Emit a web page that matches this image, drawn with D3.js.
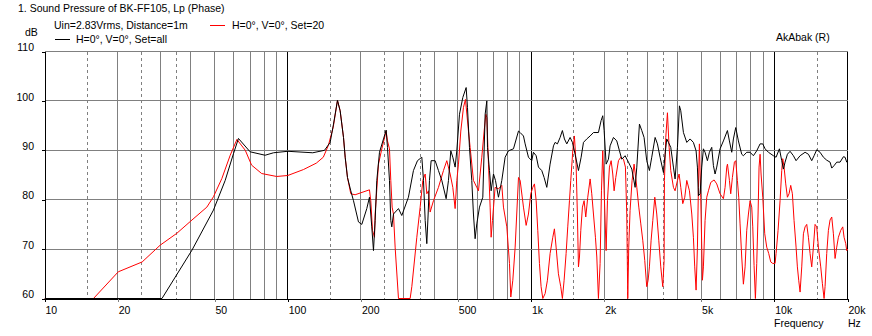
<!DOCTYPE html>
<html>
<head>
<meta charset="utf-8">
<script src="https://cdn.jsdelivr.net/npm/d3@7"></script>
<style>
  html, body { margin: 0; padding: 0; background: #fff; }
  svg text { font-family: "Liberation Sans", Arial, sans-serif; font-size: 10.5px; fill: #000; }
</style>
</head>
<body>
<svg id="chart" width="872" height="336"></svg>
<script>
// ---------- data ----------
const titleText = "1. Sound Pressure of BK-FF105, Lp (Phase)";
const legendInfo = "Uin=2.83Vrms, Distance=1m";
const seriesNames = ["H=0°, V=0°, Set=20", "H=0°, V=0°, Set=all"];
const seriesColors = ["#ff0000", "#000000"];

const xTickValues = [10, 20, 50, 100, 200, 500, 1000, 2000, 5000, 10000, 20000];
const xTickLabels = ["10", "20", "50", "100", "200", "500", "1k", "2k", "5k", "10k", "20k"];
const yTickValues = [60, 70, 80, 90, 100, 110];

// Set=all (black) : [frequency Hz, dB]
const blackSeries = [
  [10,60],[30.4,60],[40.4,69.8],[49.5,77.9],[55.3,83.9],[59.8,89.3],[62.7,92.4],[70,89.7],[80.7,89.0],[87.4,89.5],
  [100,89.8],[126.7,89.5],[141.6,90.0],[149.4,91.6],[154.2,95.3],[160.1,100.1],[164.2,98.0],[169.5,92.6],[172.2,88.6],
  [176,84.5],[181.6,81.8],[186.3,79.8],[195.3,75.5],[201.6,75.0],[211.3,78.2],[216.7,80.5],[221.5,74.5],[225.1,69.7],
  [228.7,75.8],[232.3,83.9],[238.3,89.6],[247.5,92.3],[253.8,94.1],[257,90.6],[261.9,83.9],[265.2,75.8],[267.7,74.5],
  [272,77.1],[285.2,78.2],[294.3,76.8],[313.4,80.5],[328.6,85.9],[341.4,87.9],[355.7,88.6],[361.4,83.9],[367.2,75.8],
  [372.9,71.1],[377.7,77.1],[382.4,83.9],[388.5,87.9],[403.5,87.9],[416.4,85.9],[429.8,83.9],[447.8,80.2],[457.8,83.9],
  [468,89.9],[477,88.6],[487.6,86.6],[495.4,89.9],[508.1,97.3],[524.4,100.7],[541.2,102.7],[548,98.7],[558.4,90.6],
  [570.8,83.9],[579.9,77.1],[589.1,72.1],[598.5,75.1],[614,78.5],[633.6,80.5],[647.8,97.3],[658.1,100.0],[662.3,90.6],
  [674.9,85.9],[685.6,81.8],[701,85.2],[714.3,83.9],[734.8,80.5],[758.4,83.9],[782.7,88.6],[808,89.9],[847.1,90.3],
  [888.2,93.9],[902,93.6],[931,92.9],[946,91.3],[976,88.6],[1007,87.9],[1023,89.6],[1050,88.9],[1073,86.6],[1107,85.9],
  [1132,84.5],[1161,82.5],[1198,87.2],[1237,90.9],[1256,91.6],[1284,91.3],[1317,92.6],[1346,94.0],[1372,92.3],
  [1403,91.3],[1448,92.6],[1480,91.6],[1518,89.2],[1567,85.9],[1607,88.6],[1643,91.6],[1695,92.3],[1750,92.9],
  [1806,93.6],[1893,93.6],[1941,96.0],[1972,97.0],[1998,94.0],[2036,87.2],[2081,88.2],[2114,90.9],[2182,92.6],
  [2252,91.9],[2310,89.9],[2361,88.2],[2437,88.9],[2515,87.6],[2596,86.2],[2679,82.5],[2722,86.6],[2791,95.3],
  [2853,94.0],[2916,92.6],[2990,87.9],[3067,85.9],[3136,88.6],[3237,92.6],[3309,91.3],[3393,88.6],[3502,85.5],
  [3558,89.2],[3614,92.3],[3672,91.6],[3754,90.6],[3850,86.6],[3911,84.2],[3999,90.6],[4075,99.0],[4127,98.0],
  [4232,93.6],[4368,91.6],[4508,92.3],[4650,91.6],[4771,89.9],[4831,86.6],[4877,80.8],[4955,81.2],[5033,86.6],
  [5113,90.3],[5194,89.6],[5311,87.9],[5412,89.6],[5533,90.6],[5621,86.9],[5710,85.2],[5801,86.6],[5987,90.3],
  [6179,91.9],[6418,94.0],[6540,91.9],[6686,89.6],[6792,92.3],[6944,94.6],[7121,91.9],[7349,89.2],[7466,88.9],
  [7706,89.6],[7953,89.6],[8208,88.9],[8471,89.9],[8743,91.3],[8967,91.3],[9167,90.3],[9461,89.6],[9918,88.9],
  [10171,88.6],[10498,90.3],[10732,87.9],[10903,86.2],[11077,87.6],[11324,89.2],[11613,89.8],[11985,88.9],
  [12292,87.9],[12767,88.9],[13385,89.6],[13815,89.2],[14256,87.9],[14575,88.9],[14947,90.1],[15426,89.6],
  [15921,88.6],[16431,88.0],[16958,87.6],[17228,86.4],[17612,86.9],[18062,87.6],[18642,87.6],[19240,88.7],
  [19544,88.6],[19855,87.6],[20000,87.8]
];

// Set=20 (red) : [frequency Hz, dB]
const redSeries = [
  [10,60],[15.9,60],[20.1,65.4],[25.2,67.4],[29.9,70.8],[35,73.2],[40.4,75.9],[46.5,78.5],[49.5,80.6],[53.6,84.3],
  [58,89.0],[61.8,92.2],[66.9,90.0],[71,87.0],[78.1,85.3],[90,84.7],[100,84.9],[116,86.1],[131,87.4],[140,88.6],
  [146.9,91.0],[153.8,94.7],[160.1,100.1],[164.2,98.0],[169.5,92.6],[172.2,88.6],[176,84.5],[181.6,81.2],[189.2,81.0],
  [216.7,82.0],[219.4,79.8],[223,73.8],[227.3,72.4],[228.7,77.1],[236,87.2],[243.6,90.3],[253.8,93.9],[257,91.9],
  [261.9,90.3],[265.2,83.9],[268.6,78.5],[272,77.1],[276.3,70.4],[285.2,60],[318.5,60],[323.6,62.4],[339.3,72.4],
  [350.2,78.5],[359.1,83.9],[367.2,85.2],[372.9,81.2],[378.9,81.8],[384.9,77.5],[397.2,79.8],[416.4,82.5],[436.6,85.9],
  [450.6,87.9],[465.1,85.2],[477,82.5],[487.6,78.2],[495.4,83.9],[503.3,87.2],[514.5,93.9],[527.7,98.7],[537.7,100.3],
  [553.2,93.9],[562,90.6],[579.9,83.9],[598.5,82.5],[608.1,81.8],[627.6,88.6],[641.7,93.9],[652,97.3],[658.1,96.6],
  [668.6,87.2],[679.2,78.5],[685.6,72.4],[694.3,75.8],[711.9,82.5],[734.8,82.2],[758.4,82.9],[770.4,78.5],[795.3,74.5],
  [815.6,67.1],[825.9,60.3],[841.8,63.7],[860.6,70.4],[888.2,84.5],[902.3,83.9],[931,78.5],[955,74.8],[976,77.1],
  [998,81.2],[1017,82.5],[1033,83.2],[1050,79.8],[1066,73.8],[1083,67.1],[1100,62.4],[1118,60],[1143,61.0],
  [1168,63.7],[1198,69.1],[1229,72.4],[1248,74.1],[1268,70.4],[1296,65.0],[1325,62.4],[1346,60],[1368,63.7],
  [1394,69.1],[1416,74.5],[1439,79.8],[1457,83.9],[1485,89.9],[1508,92.9],[1532,87.2],[1551,77.1],[1567,66.4],
  [1582,68.4],[1602,73.8],[1627,78.5],[1653,79.8],[1679,76.5],[1711,80.5],[1750,84.2],[1777,81.2],[1806,77.1],
  [1840,72.4],[1864,68.4],[1893,60],[1923,67.1],[1948,81.8],[1972,89.9],[1998,81.8],[2036,69.7],[2062,79.8],
  [2101,86.6],[2135,87.9],[2168,85.2],[2196,81.8],[2231,84.5],[2288,87.9],[2339,88.6],[2399,88.2],[2444,86.6],
  [2475,77.1],[2499,60],[2522,70.4],[2554,77.8],[2603,83.9],[2653,87.2],[2722,82.5],[2774,78.5],[2827,75.1],
  [2880,71.8],[2935,67.7],[2990,62.4],[3030,63.7],[3067,66.4],[3117,71.8],[3167,75.8],[3227,80.5],[3288,77.1],
  [3351,71.8],[3415,66.4],[3480,62.4],[3525,67.7],[3536,83.9],[3581,92.6],[3638,97.6],[3696,90.6],[3754,85.9],
  [3850,82.5],[3911,81.8],[3999,83.9],[4062,85.2],[4127,82.5],[4206,79.2],[4286,80.5],[4368,83.9],[4480,81.8],
  [4580,77.1],[4651,72.4],[4710,66.4],[4771,61.7],[4832,70.4],[4877,82.5],[4923,91.3],[4985,80.5],[5065,63.7],
  [5113,66.4],[5194,75.8],[5278,80.5],[5362,81.8],[5481,83.5],[5657,84.0],[5801,83.2],[5987,81.2],[6179,80.2],
  [6278,82.5],[6378,86.6],[6421,87.2],[6540,83.9],[6622,81.2],[6728,84.5],[6857,87.6],[6944,87.9],[7054,83.9],
  [7143,80.5],[7234,75.1],[7349,68.4],[7466,62.9],[7586,66.4],[7706,73.8],[7830,77.1],[7953,79.8],[8080,78.5],
  [8157,74.5],[8259,66.7],[8364,60],[8471,67.1],[8578,77.1],[8659,86.6],[8743,89.2],[8825,85.2],[8967,80.5],
  [9137,73.1],[9311,70.4],[9489,69.1],[9671,67.4],[9856,67.1],[10076,67.1],[10171,69.1],[10366,73.8],[10564,79.8],
  [10732,85.9],[10834,88.3],[10972,86.6],[11145,83.2],[11324,80.5],[11501,81.2],[11685,82.9],[11870,81.2],
  [12060,75.8],[12292,70.4],[12446,66.4],[12603,63.7],[12767,61.3],[12970,66.4],[13176,73.1],[13385,74.5],
  [13599,75.0],[13815,72.4],[14033,69.1],[14256,66.4],[14482,70.4],[14714,75.0],[14947,74.5],[15185,70.4],
  [15524,66.4],[15770,63.0],[16022,60],[16174,62.4],[16431,69.1],[16693,73.8],[16958,75.9],[17228,76.5],
  [17501,73.1],[17781,68.1],[18062,70.4],[18350,72.4],[18760,73.8],[19118,74.5],[19362,72.4],[19669,71.1],
  [19855,69.7],[20000,70.0]
];

// ---------- layout ----------
const svg = d3.select("#chart");
const plotLeft = 44.5, plotRight = 847.5, plotTop = 51.5, plotBottom = 298.5;
const x = d3.scaleLog().domain([10, 20000]).range([plotLeft, plotRight]);
const y = d3.scaleLinear().domain([60, 110]).range([plotBottom, plotTop]);
const gridColor = "#808080";

// vertical grid lines
const decades = [10, 100, 1000, 10000];
const mults = [1, 1.5, 2, 2.5, 3, 3.5, 4, 5, 6, 7, 8, 9];
const vLines = [];
decades.forEach(d => mults.forEach(m => { const f = d * m; if (f > 10 && f <= 20000) vLines.push({ f, m }); }));
svg.append("g").selectAll("line").data(vLines).join("line")
  .attr("x1", d => Math.round(x(d.f) - 0.5) + 0.5).attr("x2", d => Math.round(x(d.f) - 0.5) + 0.5)
  .attr("y1", plotTop).attr("y2", plotBottom)
  .attr("stroke", d => (d.m === 1 || d.f === 20000) ? "#000" : gridColor)
  .attr("stroke-dasharray", d => (d.m % 1 !== 0) ? "3,3" : null)
  .attr("shape-rendering", "crispEdges");

// horizontal grid lines
svg.append("g").selectAll("line").data(yTickValues.filter(v => v > 60)).join("line")
  .attr("x1", plotLeft).attr("x2", plotRight).attr("y1", d => y(d)).attr("y2", d => y(d))
  .attr("stroke", gridColor).attr("shape-rendering", "crispEdges");

// axes
const xAxis = d3.axisBottom(x).tickValues(xTickValues)
  .tickFormat((d, i) => xTickLabels[i]).tickSize(3).tickSizeOuter(0);
const gx = svg.append("g").attr("transform", `translate(0,${plotBottom})`).call(xAxis)
  .attr("font-family", null).attr("font-size", null);
gx.select(".domain").attr("stroke", "#000").attr("shape-rendering", "crispEdges");
gx.selectAll(".tick line")
  .attr("stroke", d => [10, 100, 1000, 10000, 20000].includes(d) ? "#000" : gridColor)
  .attr("shape-rendering", "crispEdges");
gx.selectAll(".tick text").attr("text-anchor", "start").attr("x", 0.5).attr("y", 15.8).attr("dy", 0)
  .attr("fill", "#000");

const yAxis = d3.axisLeft(y).tickValues(yTickValues).tickSize(3).tickSizeOuter(0);
const gy = svg.append("g").attr("transform", `translate(${plotLeft},0)`).call(yAxis)
  .attr("font-family", null).attr("font-size", null);
gy.select(".domain").attr("stroke", "#000").attr("shape-rendering", "crispEdges");
gy.selectAll(".tick line").attr("stroke", "#000").attr("shape-rendering", "crispEdges");
gy.selectAll(".tick text").attr("x", -10.5).attr("y", -0.8).attr("dy", 0).attr("fill", "#000");

// curves
svg.append("clipPath").attr("id", "plotclip").append("rect")
  .attr("x", plotLeft).attr("y", plotTop - 2).attr("width", plotRight - plotLeft + 1).attr("height", plotBottom - plotTop + 3);
const line = d3.line().x(d => x(d[0])).y(d => y(Math.max(60, Math.min(110, d[1]))));
const curves = svg.append("g").attr("clip-path", "url(#plotclip)");
[redSeries, blackSeries].forEach((s, i) => {
  curves.append("path").datum(s).attr("d", line)
    .attr("fill", "none").attr("stroke", seriesColors[i])
    .attr("stroke-width", 1).attr("stroke-linejoin", "miter");
});

// texts
svg.append("text").attr("x", 18).attr("y", 12).text(titleText);
svg.append("text").attr("x", 54).attr("y", 28.5).text(legendInfo);
svg.append("line").attr("x1", 210).attr("x2", 225).attr("y1", 25.5).attr("y2", 25.5)
  .attr("stroke", seriesColors[0]).attr("shape-rendering", "crispEdges");
svg.append("text").attr("x", 232).attr("y", 28.5).text(seriesNames[0]);
svg.append("line").attr("x1", 55).attr("x2", 70).attr("y1", 39.5).attr("y2", 39.5)
  .attr("stroke", seriesColors[1]).attr("shape-rendering", "crispEdges");
svg.append("text").attr("x", 76).attr("y", 43.3).text(seriesNames[1]);
svg.append("text").attr("x", 25).attr("y", 36).text("dB");
svg.append("text").attr("x", 776).attr("y", 41.3).text("AkAbak (R)");
svg.append("text").attr("x", 774).attr("y", 326.5).text("Frequency");
svg.append("text").attr("x", 848).attr("y", 326.5).text("Hz");
</script>
</body>
</html>
